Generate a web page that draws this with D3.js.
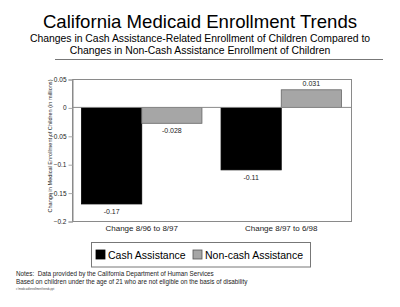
<!DOCTYPE html>
<html>
<head>
<meta charset="utf-8">
<script src="https://cdn.jsdelivr.net/npm/d3@7"></script>
<style>
  body { margin: 0; background: #fff; }
  svg { display: block; font-family: "Liberation Sans", Arial, sans-serif; }
</style>
</head>
<body>
<div id="chart"></div>
<script>
var periods = ["Change 8/96 to 8/97", "Change 8/97 to 6/98"]
var seriesNames = ["Cash Assistance", "Non-cash Assistance"]
var cashValues = [-0.17, -0.11]
var nonCashValues = [-0.028, 0.031]
var valueLabels = [["-0.17", "-0.028"], ["-0.11", "0.031"]]
var yTicks = [0.05, 0, -0.05, -0.1, -0.15, -0.2]
var seriesColors = ["#000000", "#a6a6a6"]

var width = 400
var height = 307
var plot = {left: 72, right: 351, top: 79, bottom: 221}

var svg = d3.select("#chart").append("svg")
    .attr("width", width)
    .attr("height", height)

// titles
svg.append("text")
    .attr("x", 200).attr("y", 28)
    .attr("text-anchor", "middle")
    .attr("font-size", 18.6)
    .text("California Medicaid Enrollment Trends")
svg.append("text")
    .attr("x", 200).attr("y", 42)
    .attr("text-anchor", "middle")
    .attr("font-size", 10.4)
    .text("Changes in Cash Assistance-Related Enrollment of Children Compared to")
svg.append("text")
    .attr("x", 200).attr("y", 53.5)
    .attr("text-anchor", "middle")
    .attr("font-size", 10.4)
    .text("Changes in Non-Cash Assistance Enrollment of Children")
svg.append("line")
    .attr("x1", 55).attr("x2", 383)
    .attr("y1", 59.5).attr("y2", 59.5)
    .attr("stroke", "#777").attr("stroke-width", 1)

var xScale = d3.scaleBand()
    .domain(periods)
    .range([plot.left, plot.right])
    .paddingInner(0.137)
    .paddingOuter(0.0685)

var xSub = d3.scaleBand()
    .domain(seriesNames)
    .range([0, xScale.bandwidth()])

var yScale = d3.scaleLinear()
    .domain([-0.2, 0.05])
    .range([plot.bottom, plot.top])

// frame
svg.append("rect")
    .attr("x", plot.left + 0.5).attr("y", plot.top + 0.5)
    .attr("width", plot.right - plot.left)
    .attr("height", plot.bottom - plot.top)
    .attr("fill", "none")
    .attr("stroke", "#8a8a8a")

// y axis
var yAxis = svg.append("g")
    .attr("transform", "translate(" + (plot.left + 0.5) + ",0.5)")
    .call(d3.axisLeft(yScale).tickValues(yTicks).tickSize(4).tickPadding(2)
        .tickFormat(function(d) { return d3.format("")(+d.toFixed(2)) }))
yAxis.select(".domain").attr("stroke", "#8a8a8a")
yAxis.selectAll(".tick line").attr("stroke", "#aaa")
yAxis.selectAll(".tick text")
    .attr("font-size", 6.5)
    .attr("font-family", "Liberation Sans, Arial, sans-serif")
    .attr("fill", "#222")

svg.append("text")
    .attr("transform", "translate(52,146) rotate(-90)")
    .attr("text-anchor", "middle")
    .attr("font-size", 5.6)
    .attr("fill", "#222")
    .text("Change in Medical Enrollment of Children (in millions)")

// bars
var rows = periods.map(function(p, i) {
    return {period: p, values: [cashValues[i], nonCashValues[i]], labels: valueLabels[i]}
})

var groups = svg.selectAll(".group")
    .data(rows)
    .enter().append("g")
    .attr("transform", function(d) { return "translate(" + xScale(d.period) + ",0)" })

groups.selectAll("rect")
    .data(function(d) { return d.values.map(function(v, j) { return {name: seriesNames[j], value: v, j: j} }) })
    .enter().append("rect")
    .attr("x", function(d) { return xSub(d.name) })
    .attr("width", xSub.bandwidth())
    .attr("y", function(d) { return yScale(Math.max(0, d.value)) })
    .attr("height", function(d) { return Math.abs(yScale(d.value) - yScale(0)) })
    .attr("fill", function(d) { return seriesColors[d.j] })
    .attr("stroke", function(d) { return d.j ? "#666" : "#000" })
    .attr("stroke-width", 0.8)

// zero line
svg.append("line")
    .attr("x1", plot.left).attr("x2", plot.right)
    .attr("y1", yScale(0)).attr("y2", yScale(0))
    .attr("stroke", "#8a8a8a")

groups.selectAll(".vlabel")
    .data(function(d) { return d.values.map(function(v, j) { return {name: seriesNames[j], value: v, label: d.labels[j]} }) })
    .enter().append("text")
    .attr("x", function(d) { return xSub(d.name) + xSub.bandwidth() / 2 })
    .attr("y", function(d) { return d.value < 0 ? yScale(d.value) + 10 : yScale(d.value) - 4 })
    .attr("text-anchor", "middle")
    .attr("font-size", 7)
    .attr("fill", "#222")
    .text(function(d) { return d.label })

// category labels
svg.selectAll(".cat")
    .data(periods)
    .enter().append("text")
    .attr("x", function(d) { return xScale(d) + xScale.bandwidth() / 2 })
    .attr("y", 231)
    .attr("text-anchor", "middle")
    .attr("font-size", 8)
    .attr("fill", "#222")
    .text(function(d) { return d })

// legend
svg.append("rect")
    .attr("x", 91.5).attr("y", 242.5)
    .attr("width", 219).attr("height", 24.5)
    .attr("fill", "none").attr("stroke", "#777")
var legendX = [96, 193]
var legend = svg.selectAll(".leg")
    .data(seriesNames)
    .enter().append("g")
    .attr("transform", function(d, i) { return "translate(" + legendX[i] + ",250)" })
legend.append("rect")
    .attr("width", 9).attr("height", 9)
    .attr("fill", function(d, i) { return seriesColors[i] })
    .attr("stroke", function(d, i) { return i ? "#555" : "#000" })
    .attr("stroke-width", 0.8)
legend.append("text")
    .attr("x", 12).attr("y", 8.5)
    .attr("font-size", 10.5)
    .text(function(d) { return d })

// notes
svg.append("text")
    .attr("x", 16).attr("y", 276)
    .attr("font-size", 6.3)
    .attr("fill", "#222")
    .attr("xml:space", "preserve")
    .text("Notes:  Data provided by the California Department of Human Services")
svg.append("text")
    .attr("x", 16).attr("y", 284)
    .attr("font-size", 6.3)
    .attr("fill", "#222")
    .text("Based on children under the age of 21 who are not eligible on the basis of disability")
svg.append("text")
    .attr("x", 16).attr("y", 289.5)
    .attr("font-size", 2.6)
    .attr("fill", "#444")
    .text("c:\\medicaid\\enrollment\\trends.ppt")
</script>
</body>
</html>
